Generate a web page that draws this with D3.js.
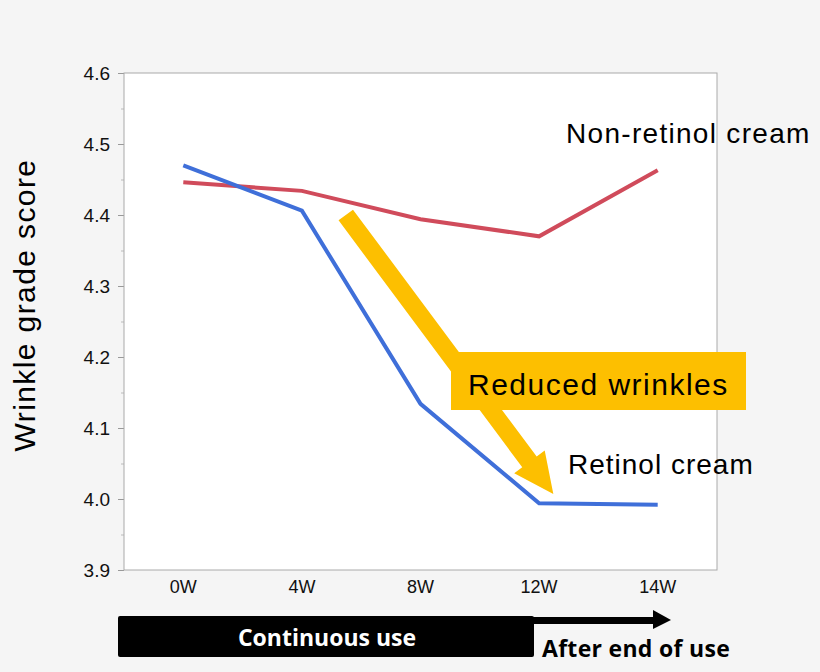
<!DOCTYPE html>
<html>
<head>
<meta charset="utf-8">
<script src="https://cdn.jsdelivr.net/npm/d3@7"></script>
<style>
  body { margin: 0; background: #f5f5f5; }
  svg { display: block; }
  text { font-family: "Liberation Sans", Arial, sans-serif; }
</style>
</head>
<body>
<div id="graph"></div>
<script>
var weeks = ['0W', '4W', '8W', '12W', '14W']
var retinol = [4.470, 4.406, 4.134, 3.994, 3.992]
var nonRetinol = [4.446, 4.434, 4.394, 4.370, 4.463]
var yTicks = [3.9, 4.0, 4.1, 4.2, 4.3, 4.4, 4.5, 4.6]
var minorTicks = [3.95, 4.05, 4.15, 4.25, 4.35, 4.45, 4.55]

var width = 820, height = 672
var m = {left: 124, top: 73, right: 103, bottom: 102}
var w = width - m.left - m.right, h = height - m.top - m.bottom

var svg = d3.select('#graph').append('svg').attr('width', width).attr('height', height)
var g = svg.append('g').attr('transform', `translate(${m.left},${m.top})`)

var x = d3.scaleBand().domain(weeks).range([0, w])
var xi = d3.scaleLinear().domain([0, weeks.length - 1]).range([x.bandwidth()/2, w - x.bandwidth()/2])
var y = d3.scaleLinear().domain([3.9, 4.6]).range([h, 0])

g.append('rect').attr('width', w).attr('height', h).attr('fill', '#fff')

// y axis
var yAxis = g.append('g').call(d3.axisLeft(y).tickValues(yTicks).tickFormat(d3.format('.1f')).tickSize(6))
yAxis.select('.domain').remove()
yAxis.selectAll('.tick line').attr('stroke', '#999')
yAxis.selectAll('.tick text').attr('font-size', 19).attr('x', -14).attr('fill', '#111')
g.append('g').call(d3.axisLeft(y).tickValues(minorTicks).tickFormat('').tickSize(3))
  .call(s => s.select('.domain').remove())
  .selectAll('line').attr('stroke', '#bbb')

// x axis
var xAxis = g.append('g').attr('transform', `translate(0,${h})`).call(d3.axisBottom(x).tickSize(0))
xAxis.select('.domain').remove()
xAxis.selectAll('.tick text').attr('font-size', 18).attr('dy', '1.1em').attr('fill', '#111')

g.append('rect').attr('width', w).attr('height', h).attr('fill', 'none').attr('stroke', '#aaa')

var line = d3.line().x((d, i) => x(weeks[i]) + x.bandwidth()/2).y(d => y(d))

g.append('path').attr('d', line(nonRetinol)).attr('fill', 'none').attr('stroke', '#d04b5b').attr('stroke-width', 4)
g.append('path').attr('d', line(retinol)).attr('fill', 'none').attr('stroke', '#3f6fd9').attr('stroke-width', 4)

// yellow arrow
var a0 = [xi(1.37), y(4.40)], a1 = [xi(3.12), y(4.007)]
var ang = Math.atan2(a1[1] - a0[1], a1[0] - a0[0])
var len = Math.hypot(a1[0] - a0[0], a1[1] - a0[1])
var sw = 9, hw = 19, hl = 40
g.append('path')
  .attr('d', `M0,${-sw}L${len - hl},${-sw}L${len - hl},${-hw}L${len},0L${len - hl},${hw}L${len - hl},${sw}L0,${sw}Z`)
  .attr('fill', '#fdbf00')
  .attr('transform', `translate(${a0}) rotate(${ang * 180 / Math.PI})`)

// callout box
svg.append('rect').attr('x', 451).attr('y', 352).attr('width', 295).attr('height', 58).attr('fill', '#fdbf00')
svg.append('text').text('Reduced wrinkles').attr('x', 468).attr('y', 395)
  .attr('font-size', 30).attr('letter-spacing', 1.5)

svg.append('text').text('Non-retinol cream').attr('x', 566).attr('y', 143)
  .attr('font-size', 28).attr('letter-spacing', 1.3)
svg.append('text').text('Retinol cream').attr('x', 568).attr('y', 474)
  .attr('font-size', 28).attr('letter-spacing', 1)

svg.append('text').text('Wrinkle grade score')
  .attr('transform', 'translate(35,305) rotate(-90)')
  .attr('text-anchor', 'middle').attr('font-size', 30).attr('letter-spacing', 1.4)

// bottom timeline
svg.append('rect').attr('x', 118).attr('y', 616).attr('width', 416).attr('height', 41).attr('rx', 2).attr('fill', '#000')
svg.append('rect').attr('x', 530).attr('y', 617).attr('width', 125).attr('height', 7).attr('fill', '#000')
svg.append('path').attr('d', 'M653,610L671,620L653,629Z').attr('fill', '#000')
svg.append('text').text('Continuous use').attr('x', 327).attr('y', 646)
  .attr('text-anchor', 'middle').attr('font-size', 23).attr('font-weight', 700)
  .attr('fill', '#fff').style('font-family', '"Open Sans", sans-serif')
svg.append('text').text('After end of use').attr('x', 542).attr('y', 657)
  .attr('font-size', 23).attr('font-weight', 700).attr('letter-spacing', 0.3)
  .style('font-family', '"Open Sans", sans-serif')
</script>
</body>
</html>
